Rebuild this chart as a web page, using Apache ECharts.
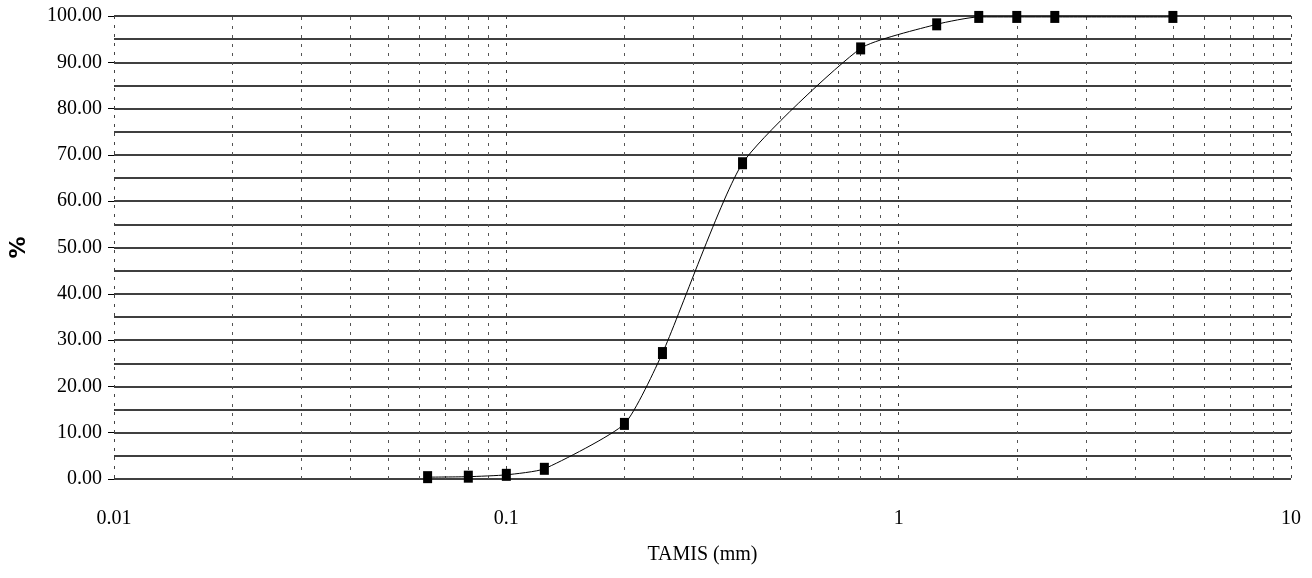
<!DOCTYPE html>
<html>
<head>
<meta charset="utf-8">
<script src="https://cdn.jsdelivr.net/npm/echarts@6/dist/echarts.min.js"></script>
<style>html,body{margin:0;padding:0;background:#fff}#c{width:1312px;height:578px}</style>
</head>
<body>
<div id="c"></div>
<script>
// sieve sizes (mm) and % passing
var sizes = [0.063, 0.08, 0.1, 0.125, 0.2, 0.25, 0.4, 0.8, 1.25, 1.6, 2, 2.5, 5];
var passing = [0.4, 0.5, 0.9, 2.2, 11.9, 27.2, 68.2, 93.0, 98.2, 99.8, 99.8, 99.8, 99.8];
// minor vertical gridline positions on the log axis
var minorGrid = [0.02,0.03,0.04,0.05,0.06,0.07,0.08,0.09,
                 0.2,0.3,0.4,0.5,0.6,0.7,0.8,0.9,
                 2,3,4,5,6,7,8,9];
var xTicks = [0.01, 0.1, 1, 10];

var chart = echarts.init(document.getElementById('c'));
var serif = 'Liberation Serif';
chart.setOption({
  animation: false,
  grid: {left: 112, right: 21, top: 16, bottom: 99},
  xAxis: {
    type: 'log', logBase: 10, min: 0.01, max: 10,
    name: 'TAMIS (mm)', nameLocation: 'middle', nameGap: 66,
    nameTextStyle: {fontFamily: serif, fontSize: 20, color: '#000'},
    axisLine: {show: false}, axisTick: {show: false},
    axisLabel: {fontFamily: serif, fontSize: 20, color: '#000', margin: 30,
      formatter: function (v) { return String(v); }},
    splitLine: {show: true, lineStyle: {color: '#444', width: 1, type: [3, 6]}}
  },
  yAxis: {
    type: 'value', min: 0, max: 100, interval: 10,
    name: '%', nameLocation: 'middle', nameGap: 84,
    nameTextStyle: {fontFamily: 'DejaVu Sans', fontWeight: 'bold', fontSize: 22, color: '#000'},
    axisLine: {show: false},
    axisTick: {show: true, length: 6, lineStyle: {color: '#000', width: 1}},
    axisLabel: {fontFamily: serif, fontSize: 20, color: '#000', margin: 12,
      formatter: function (v) { return v.toFixed(2); }},
    splitLine: {show: true, lineStyle: {color: '#000', width: 1.5}},
    minorTick: {show: false, splitNumber: 2},
    minorSplitLine: {show: true, lineStyle: {color: '#000', width: 1.5}}
  },
  series: [{
    type: 'line',
    data: sizes.map(function (s, i) { return [s, passing[i]]; }),
    smooth: 0.18,
    symbol: 'rect', symbolSize: [9, 12],
    itemStyle: {color: '#000'},
    lineStyle: {color: '#000', width: 1},
    z: 5,
    markLine: {
      silent: true, symbol: 'none', label: {show: false},
      lineStyle: {color: '#555', width: 1, type: [3, 6]},
      data: minorGrid.map(function (v) { return {xAxis: v}; })
    }
  }]
});
</script>
</body>
</html>
